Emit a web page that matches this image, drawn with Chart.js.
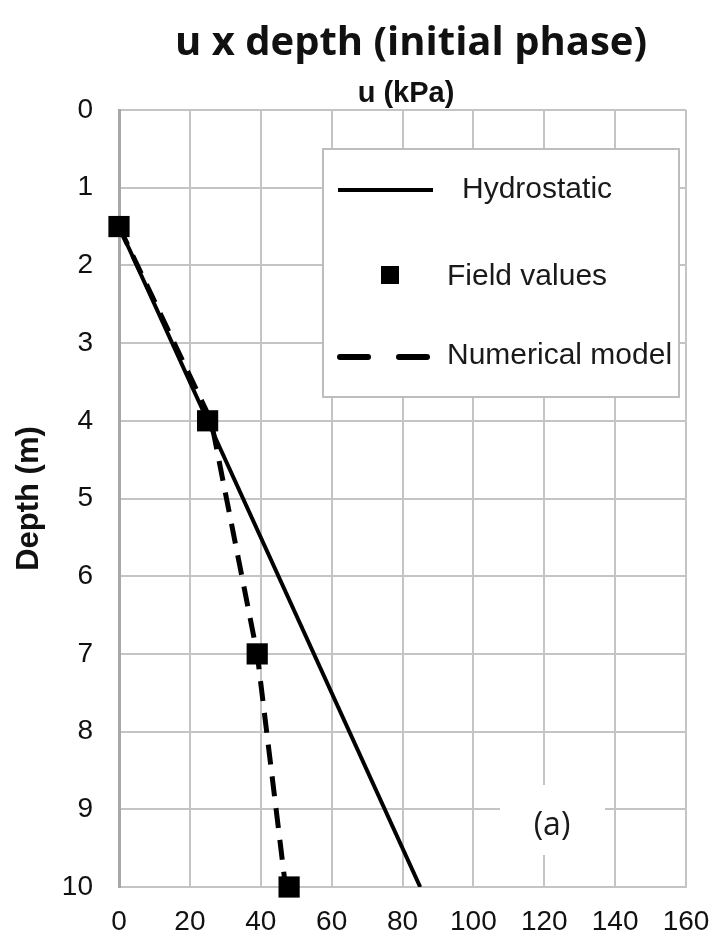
<!DOCTYPE html>
<html>
<head>
<meta charset="utf-8">
<script src="https://cdn.jsdelivr.net/npm/chart.js@4.4.1/dist/chart.umd.min.js"></script>
<style>
  html, body { margin: 0; padding: 0; background: #fff; }
  #wrap { width: 710px; height: 936px; }
</style>
</head>
<body>
<div id="wrap"><canvas id="chart"></canvas></div>
<script>
// data
var hydroU = [0, 85];
var hydroDepth = [1.5, 10];

var fieldU = [0, 25, 39, 48];
var fieldDepth = [1.5, 4, 7, 10];

var modelU = [0, 26, 39, 47];
var modelDepth = [1.5, 4, 7, 10];

var seriesNames = ["Hydrostatic", "Field values", "Numerical model"];

var uTicks = [0, 20, 40, 60, 80, 100, 120, 140, 160];
var depthTicks = [0, 1, 2, 3, 4, 5, 6, 7, 8, 9, 10];

function pts(xs, ys) {
  var out = [];
  for (var i = 0; i < xs.length; i++) out.push({ x: xs[i], y: ys[i] });
  return out;
}

var grid = "#c4c4c4";

// title, top axis label, legend box and "(a)" tag
var overlay = {
  id: "overlay",
  afterDraw: function(chart) {
    var ctx = chart.ctx;
    ctx.save();
    ctx.fillStyle = "#111";
    ctx.textAlign = "center";
    ctx.textBaseline = "middle";
    ctx.font = "bold 40px 'Open Sans'";
    ctx.fillText("u x depth (initial phase)", 411, 44);
    ctx.font = "bold 29px 'Liberation Sans'";
    ctx.fillText("u (kPa)", 406, 94);

    // legend
    ctx.fillStyle = "#fff";
    ctx.fillRect(323, 149, 356, 248);
    ctx.strokeStyle = "#bdbdbd";
    ctx.lineWidth = 2;
    ctx.strokeRect(323, 149, 356, 248);

    ctx.strokeStyle = "#000";
    ctx.lineWidth = 4;
    ctx.beginPath();
    ctx.moveTo(338, 190); ctx.lineTo(433, 190);
    ctx.stroke();

    ctx.fillStyle = "#000";
    ctx.fillRect(381, 266, 18, 18);

    ctx.lineWidth = 6;
    ctx.lineCap = "round";
    ctx.beginPath();
    ctx.moveTo(340, 357); ctx.lineTo(368, 357);
    ctx.moveTo(399, 357); ctx.lineTo(427, 357);
    ctx.stroke();

    ctx.fillStyle = "#1a1a1a";
    ctx.textAlign = "left";
    ctx.font = "30px 'Liberation Sans'";
    ctx.fillText(seriesNames[0], 462, 190);
    ctx.fillText(seriesNames[1], 447, 277);
    ctx.fillText(seriesNames[2], 447, 356);

    // (a) tag
    ctx.fillStyle = "#fff";
    ctx.fillRect(500, 785, 105, 70);
    ctx.fillStyle = "#1a1a1a";
    ctx.textAlign = "center";
    ctx.font = "32px 'Open Sans'";
    ctx.fillText("(a)", 552, 826);
    ctx.restore();
  }
};

new Chart(document.getElementById("chart"), {
  type: "scatter",
  data: {
    datasets: [
      {
        label: seriesNames[1],
        data: pts(fieldU, fieldDepth),
        pointStyle: "rect",
        pointRadius: 15,
        pointHoverRadius: 15,
        backgroundColor: "#000",
        borderColor: "#000",
        borderWidth: 0,
        clip: false,
        order: 0
      },
      {
        label: seriesNames[2],
        data: pts(modelU, modelDepth),
        showLine: true,
        borderColor: "#000",
        borderWidth: 5,
        borderDash: [20, 12],
        pointRadius: 0,
        order: 1
      },
      {
        label: seriesNames[0],
        data: pts(hydroU, hydroDepth),
        showLine: true,
        borderColor: "#000",
        borderWidth: 4,
        pointRadius: 0,
        order: 2
      }
    ]
  },
  options: {
    responsive: true,
    maintainAspectRatio: false,
    animation: false,
    layout: { padding: { top: 110, right: 24, left: 0, bottom: 0 } },
    plugins: {
      legend: { display: false },
      tooltip: { enabled: false }
    },
    scales: {
      x: {
        type: "linear",
        position: "bottom",
        min: 0,
        max: 160,
        afterBuildTicks: function(s) { s.ticks = uTicks.map(function(v) { return { value: v }; }); },
        afterFit: function(s) { s.height = 49; s.paddingLeft = 0; s.paddingRight = 0; },
        grid: { color: grid, lineWidth: 2, drawTicks: false },
        border: { color: grid, width: 2 },
        ticks: {
          color: "#111",
          padding: 18,
          font: { family: "'Liberation Sans'", size: 28 },
          maxRotation: 0
        }
      },
      y: {
        type: "linear",
        reverse: true,
        min: 0,
        max: 10,
        afterBuildTicks: function(s) { s.ticks = depthTicks.map(function(v) { return { value: v }; }); },
        afterFit: function(s) { s.width = 119; s.paddingTop = 0; s.paddingBottom = 0; },
        grid: { color: grid, lineWidth: 2, drawTicks: false },
        border: { color: "#a8a8a8", width: 3 },
        title: {
          display: true,
          text: "Depth (m)",
          color: "#111",
          font: { family: "'Liberation Sans'", size: 31, weight: "bold" },
          padding: { top: 11, bottom: 0 }
        },
        ticks: {
          color: "#111",
          padding: 26,
          font: { family: "'Liberation Sans'", size: 28 }
        }
      }
    }
  },
  plugins: [overlay]
});
</script>
</body>
</html>
